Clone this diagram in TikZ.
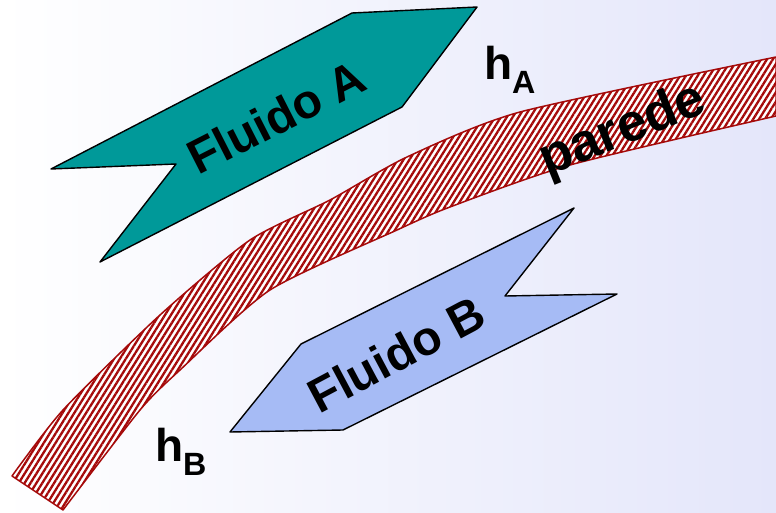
\documentclass[tikz,border=0pt]{standalone}
\usepackage{fontspec}
\setmainfont{Liberation Sans}
\usetikzlibrary{patterns.meta}
\definecolor{tealA}{RGB}{0,153,153}
\definecolor{blueB}{RGB}{166,187,245}
\definecolor{wallred}{RGB}{165,10,10}
\definecolor{bgR}{RGB}{228,230,250}
\begin{document}
\begin{tikzpicture}[x=1pt,y=-1pt,
  arrowshape/.style={draw=black,line width=1.4pt,line join=round},
  wallshape/.style={draw=wallred,line width=1.5pt,line join=round,
    pattern={Lines[angle=58,distance=5pt,line width=2.3pt]},pattern color=wallred},
  bigtxt/.style={font=\bfseries\fontsize{48}{48}\selectfont,inner sep=0pt},
  walltxt/.style={font=\bfseries\fontsize{53}{53}\selectfont,inner sep=0pt},
  htxt/.style={font=\bfseries\fontsize{46}{46}\selectfont,inner sep=0pt}]
\shade[left color=white,right color=bgR] (0,0) rectangle (776,513);
\useasboundingbox (0,0) rectangle (776,513);
% wall
\def\wallpath{plot[smooth,tension=0.4] coordinates {(12,476) (63,410) (160,315) (250,240) (330,200) (407,157) (520,112) (776,57)}
  -- plot[smooth,tension=0.4] coordinates {(776,116) (570,165) (450,207) (397,230) (270,290) (180,370) (140,410) (63,510)} -- cycle}
\path[fill=white] \wallpath;
\draw[wallshape] \wallpath;
% Fluido A
\draw[arrowshape,fill=tealA] (51,169) -- (176,164) -- (100,262) -- (402,107) -- (477,7) -- (352,13) -- cycle;
% Fluido B
\draw[arrowshape,fill=blueB] (574,208) -- (505,296) -- (617,294) -- (343,430) -- (230,432) -- (301,344) -- cycle;
% texts
\node[bigtxt,rotate=27] (fa) at (276,117) {Fluido A};
\node[bigtxt,rotate=28] (fb) at (396,354) {Fluido B};
\node[walltxt,rotate=22] (pw) at (623,131) {parede};
\node[htxt] (ha) at (510,70) {h\textsubscript{A}};
\node[htxt] (hb) at (181,452) {h\textsubscript{B}};
\end{tikzpicture}
\end{document}
